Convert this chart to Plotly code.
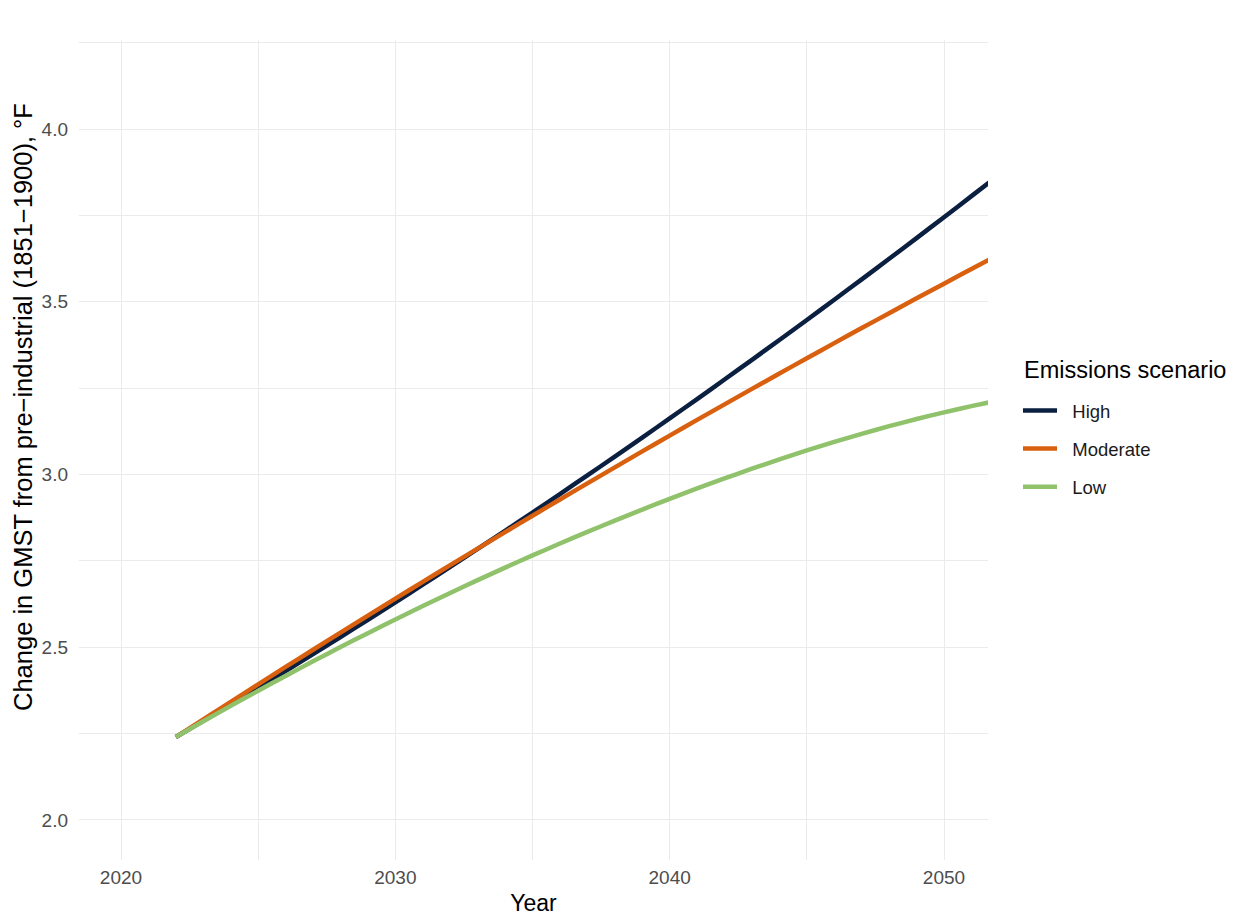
import plotly.graph_objects as go

years = list(range(2022, 2053))
high = [2.2400, 2.2870, 2.3345, 2.3825, 2.4310, 2.4800, 2.5295, 2.5795, 2.6300, 2.6810,
        2.7325, 2.7845, 2.8370, 2.8900, 2.9435, 2.9975, 3.0520, 3.1070, 3.1625, 3.2185,
        3.2750, 3.3320, 3.3895, 3.4475, 3.5060, 3.5650, 3.6245, 3.6845, 3.7450, 3.8060, 3.8675]
moderate = [2.2400, 2.2912, 2.3421, 2.3926, 2.4429, 2.4928, 2.5424, 2.5917, 2.6406, 2.6893,
            2.7376, 2.7856, 2.8333, 2.8806, 2.9277, 2.9744, 3.0208, 3.0669, 3.1126, 3.1581,
            3.2032, 3.2480, 3.2925, 3.3366, 3.3805, 3.4240, 3.4672, 3.5101, 3.5526, 3.5949, 3.6368]
low = [2.2400, 2.2855, 2.3302, 2.3740, 2.4170, 2.4591, 2.5004, 2.5408, 2.5804, 2.6192,
       2.6571, 2.6942, 2.7304, 2.7658, 2.8003, 2.8339, 2.8667, 2.8986, 2.9296, 2.9596,
       2.9887, 3.0168, 3.0439, 3.0700, 3.0946, 3.1179, 3.1399, 3.1606, 3.1800, 3.1981, 3.2149]

scenario_names = ["High", "Moderate", "Low"]
scenario_values = [high, moderate, low]
scenario_colors = ["#0b1f40", "#d8600f", "#90c26c"]

x_ticks = [2020, 2030, 2040, 2050]
x_minor = [2025, 2035, 2045]
y_ticks = [2.0, 2.5, 3.0, 3.5, 4.0]
y_minor = [2.25, 2.75, 3.25, 3.75, 4.25]

y_title = "Change in GMST from pre\u2212industrial (1851\u22121900), \u00b0F"

fig = go.Figure()
for name, vals, col in zip(scenario_names, scenario_values, scenario_colors):
    fig.add_trace(go.Scatter(x=years, y=vals, mode="lines", name="\u00a0\u00a0" + name,
                             legendgroup=name,
                             line=dict(color=col, width=4.5, shape="spline", smoothing=0.6)))

font = "Liberation Sans, Arial, sans-serif"
fig.update_layout(
    width=1239, height=918,
    margin=dict(l=71, r=259, t=32, b=66),
    plot_bgcolor="white", paper_bgcolor="white",
    font=dict(family=font),
    showlegend=True,
    legend=dict(
        font=dict(size=18.5, color="#1a1a1a", family=font),
        xref="container", yref="container",
        x=1010 / 1239, y=1 - 384 / 918, xanchor="left", yanchor="top",
        traceorder="grouped", tracegroupgap=11,
        itemwidth=34, bgcolor="rgba(0,0,0,0)",
    ),
    annotations=[
        dict(text="Emissions scenario", xref="paper", yref="paper",
             x=(1014 - 71) / 909, y=(852 - 362) / 820, xanchor="left", yanchor="middle",
             showarrow=False, font=dict(size=23.5, color="black", family=font)),
        dict(text=y_title, xref="paper", yref="paper", textangle=-90,
             x=(15 - 71) / 909, y=(852 - 399) / 820, xanchor="center", yanchor="middle",
             showarrow=False, font=dict(size=25.5, color="black", family=font)),
    ],
)
fig.update_xaxes(
    range=[2018.469, 2051.604], tickmode="array", tickvals=x_ticks,
    ticktext=[str(v) for v in x_ticks],
    showgrid=True, gridcolor="#ebebeb", gridwidth=1, zeroline=False, showline=False,
    ticks="", tickfont=dict(size=19, color="#4d4d4d"), ticklabelstandoff=4,
    title=dict(text="Year", font=dict(size=23, color="black"), standoff=7),
    minor=dict(tickvals=x_minor, showgrid=True, gridcolor="#ebebeb", gridwidth=1),
)
fig.update_yaxes(
    range=[1.884, 4.258], tickmode="array", tickvals=y_ticks,
    ticktext=["%.1f" % v for v in y_ticks],
    showgrid=True, gridcolor="#ebebeb", gridwidth=1, zeroline=False, showline=False,
    ticks="", tickfont=dict(size=19, color="#4d4d4d"), ticklabelstandoff=10,
    minor=dict(tickvals=y_minor, showgrid=True, gridcolor="#ebebeb", gridwidth=1),
)

fig.write_html("out.html")
